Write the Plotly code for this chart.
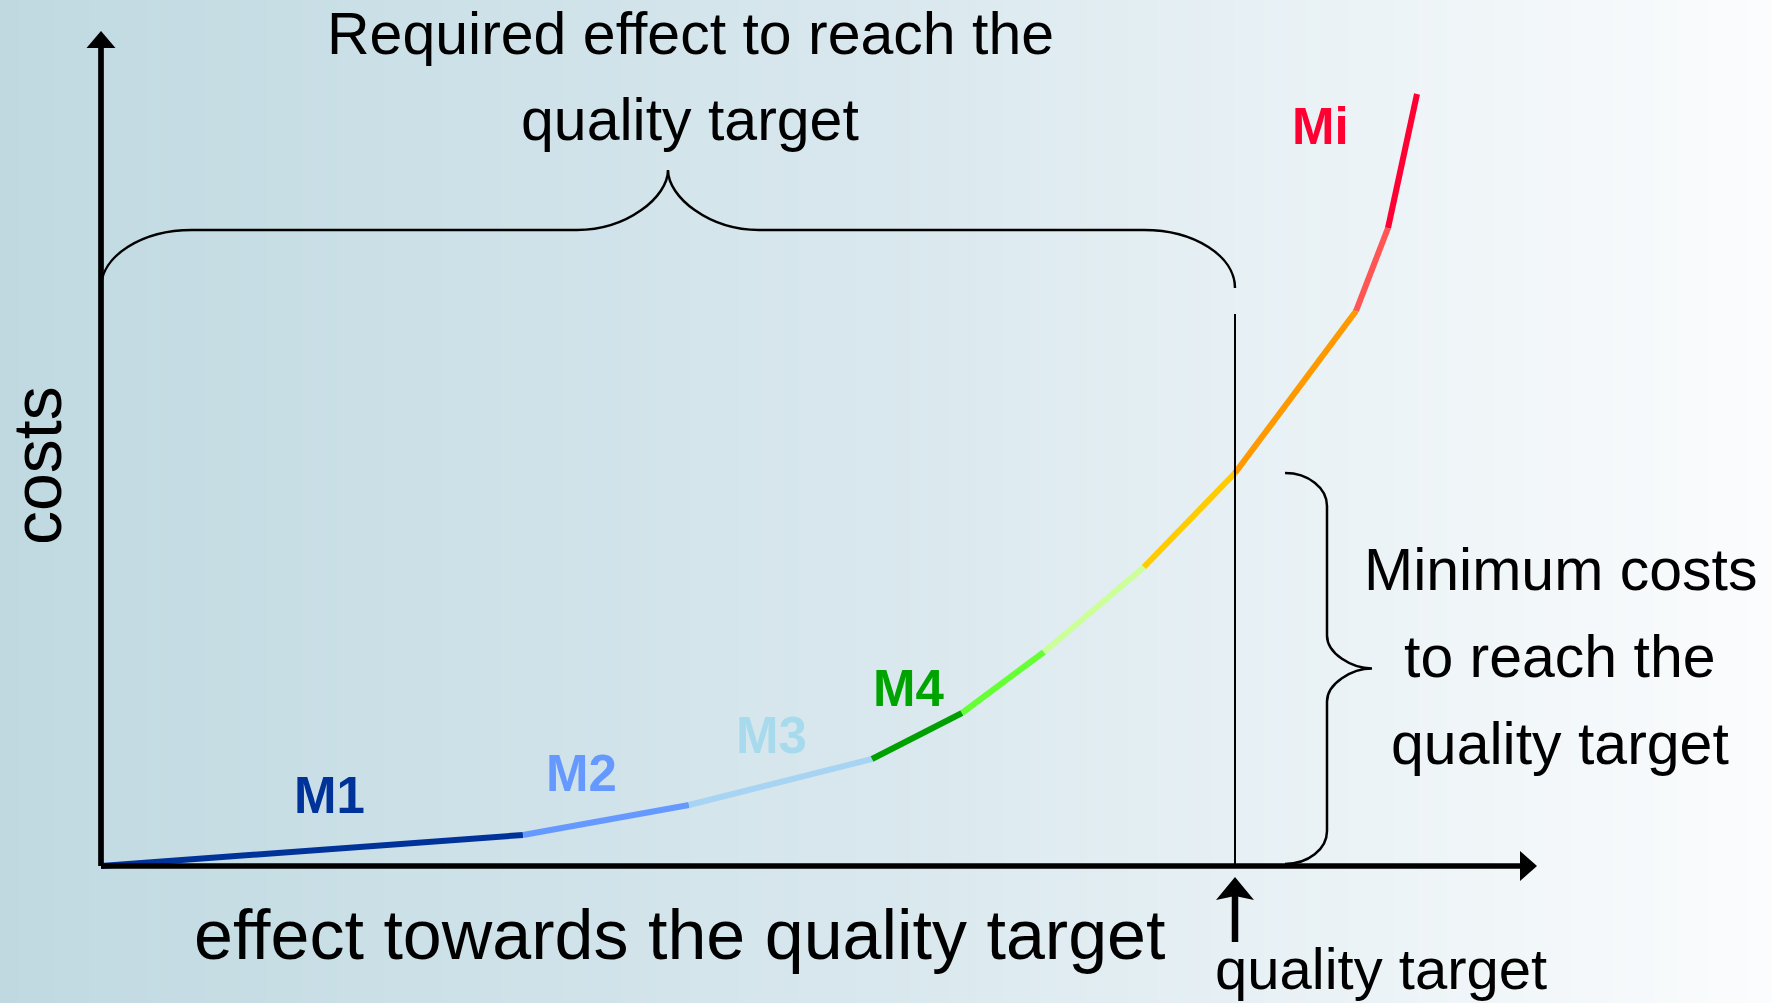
import numpy as np
import plotly.graph_objects as go

# ---------------- data ----------------
# effect towards the quality target (x) and costs (y) at the ends of each measure segment
effect_x = [0, 42.2, 58.8, 77.1, 86.1, 94.3, 104.3, 113.4, 125.5, 128.7, 131.6]
cost_y = [0, 3.1, 6.1, 10.7, 15.3, 21.4, 29.9, 39.3, 55.5, 63.8, 77.2]
segment_colors = ["#003399", "#6699ff", "#a8d4f4", "#00a000", "#66ff33",
                  "#ccff99", "#ffcc00", "#ff9900", "#ff5555", "#ff0033"]

measure_labels = ["M1", "M2", "M3", "M4", "Mi"]
measure_label_x = [22.8, 48.0, 67.0, 80.7, 121.9]
measure_label_y = [7.1, 9.3, 13.1, 17.8, 74.0]
measure_label_colors = ["#003399", "#6699ff", "#a8daee", "#00a400", "#ff0033"]

quality_target = 113.4      # effect needed
minimum_costs = 39.3        # cost at the quality target

FONT = "Liberation Sans, Arial, sans-serif"

# axis ranges (10 px per unit)
XR = [-10.1, 167.1]
YR = [-13.7, 86.6]

fig = go.Figure()

# background gradient
N = 300
dx = (XR[1] - XR[0]) / N
bx = np.linspace(XR[0] + dx / 2, XR[1] - dx / 2, N)
fig.add_trace(go.Heatmap(
    x=bx, y=[YR[0], YR[1]], z=[list(range(N)), list(range(N))],
    colorscale=[[0, "#c0d9e1"], [0.5, "#d9e8ee"], [1, "#fbfcfd"]],
    showscale=False, hoverinfo="skip", zsmooth=False))

# curve segments
for i, c in enumerate(segment_colors):
    fig.add_trace(go.Scatter(
        x=effect_x[i:i + 2], y=cost_y[i:i + 2], mode="lines",
        line=dict(color=c, width=6), hoverinfo="skip", showlegend=False))

shapes = []
# axes
shapes.append(dict(type="line", x0=0, y0=0, x1=0, y1=81.9, line=dict(color="black", width=5.7)))
shapes.append(dict(type="path", path="M -1.45,81.8 L 1.45,81.8 L 0,83.5 Z",
                   fillcolor="black", line=dict(color="black", width=0)))
shapes.append(dict(type="line", x0=0, y0=0, x1=142.0, y1=0, line=dict(color="black", width=5.7)))
shapes.append(dict(type="path", path="M 141.9,-1.5 L 141.9,1.5 L 143.6,0 Z",
                   fillcolor="black", line=dict(color="black", width=0)))

# quality target line and arrow
shapes.append(dict(type="line", x0=quality_target, y0=0, x1=quality_target, y1=55.2,
                   line=dict(color="black", width=2)))
shapes.append(dict(type="line", x0=quality_target, y0=-7.6, x1=quality_target, y1=-3.0,
                   line=dict(color="black", width=6.5)))
qt = quality_target
shapes.append(dict(type="path",
                   path=f"M {qt},-1.1 L {qt-1.9},-3.4 L {qt},-3.0 L {qt+1.9},-3.4 Z",
                   fillcolor="black", line=dict(color="black", width=0)))


def brace_path(a0, a1, base, bar, tip, r, vertical=False):
    k = 0.552
    mid = (a0 + a1) / 2
    pts = [
        ("M", [(a0, base)]),
        ("C", [(a0, base + k * (bar - base)), (a0 + (1 - k) * r, bar), (a0 + r, bar)]),
        ("L", [(mid - r, bar)]),
        ("C", [(mid - (1 - k) * r, bar), (mid, bar + k * (tip - bar)), (mid, tip)]),
        ("C", [(mid, bar + k * (tip - bar)), (mid + (1 - k) * r, bar), (mid + r, bar)]),
        ("L", [(a1 - r, bar)]),
        ("C", [(a1 - (1 - k) * r, bar), (a1, base + k * (bar - base)), (a1, base)]),
    ]
    out = []
    for cmd, ps in pts:
        coords = []
        for a, p in ps:
            x, y = (p, a) if vertical else (a, p)
            coords.append(f"{x:.3f},{y:.3f}")
        out.append(cmd + " " + " ".join(coords))
    return " ".join(out)


shapes.append(dict(type="path", path=brace_path(0, quality_target, 57.8, 63.6, 69.6, 9.1),
                   line=dict(color="black", width=2.5)))
shapes.append(dict(type="path",
                   path=brace_path(0.2, minimum_costs, 118.4, 122.6, 127.1, 3.3, vertical=True),
                   line=dict(color="black", width=2.5)))

annotations = []


def txt(x, y, s, size, color="black", bold=False, angle=0):
    annotations.append(dict(
        x=x, y=y, xref="x", yref="y", text=f"<b>{s}</b>" if bold else s, showarrow=False,
        xanchor="center", yanchor="middle", textangle=angle,
        font=dict(family=FONT, size=size, color=color)))


for lab, lx, ly, lc in zip(measure_labels, measure_label_x, measure_label_y, measure_label_colors):
    txt(lx, ly, lab, 51, lc, bold=True)

txt(58.9, 83.2, "Required effect to reach the", 59)
txt(58.9, 74.6, "quality target", 59)
txt(145.9, 29.6, "Minimum costs", 59)
txt(145.9, 20.9, "to reach the", 59)
txt(145.9, 12.2, "quality target", 59)
txt(57.9, -6.9, "effect towards the quality target", 70)
txt(128.0, -10.2, "quality target", 58)
txt(-6.4, 40.0, "costs", 68, angle=-90)

fig.update_layout(
    width=1772, height=1003, margin=dict(l=0, r=0, t=0, b=0),
    paper_bgcolor="#d9e8ee", plot_bgcolor="#d9e8ee",
    xaxis=dict(range=XR, visible=False, fixedrange=True),
    yaxis=dict(range=YR, visible=False, fixedrange=True),
    showlegend=False, shapes=shapes, annotations=annotations,
)

fig.write_html("out.html", config={"displayModeBar": False},
               post_script="document.body.style.margin='0';document.body.style.overflow='hidden';")
